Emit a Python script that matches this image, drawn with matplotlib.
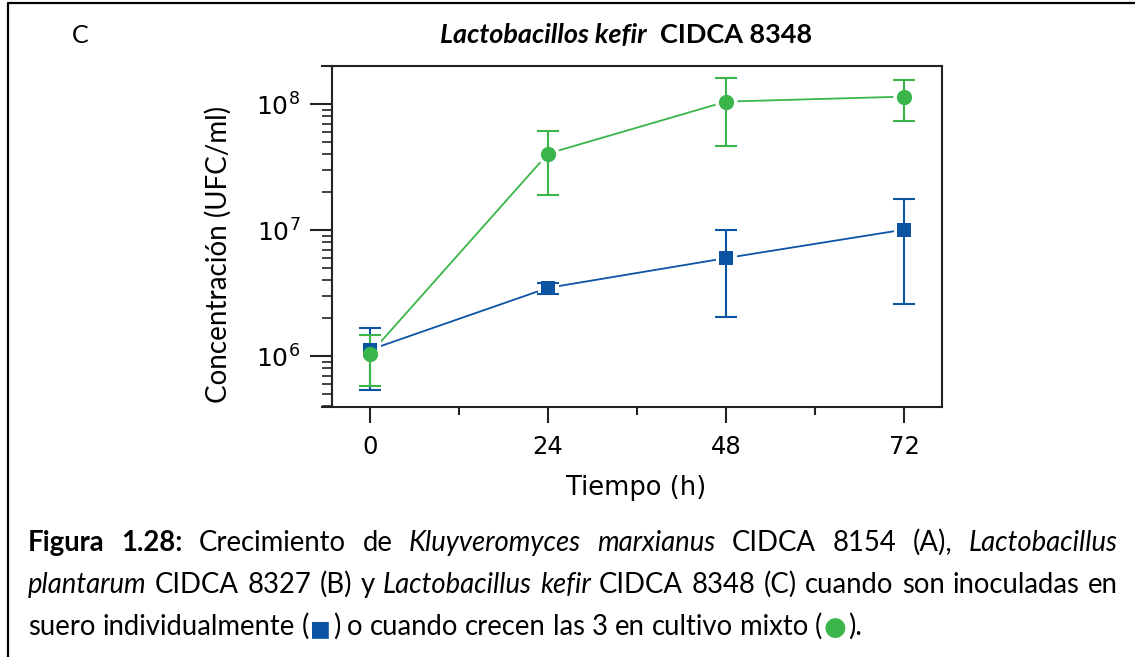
import matplotlib
matplotlib.use("Agg")
import matplotlib.pyplot as plt
from matplotlib.lines import Line2D
from matplotlib.transforms import IdentityTransform
from matplotlib.ticker import LogLocator, NullFormatter, FixedLocator

# data (UFC/ml)
tiempo_h = [0, 24, 48, 72]
individual = [1.12e6, 3.48e6, 6.0e6, 1.01e7]
individual_sup = [1.68e6, 3.82e6, 1.0e7, 1.76e7]
individual_inf = [5.4e5, 3.1e6, 2.05e6, 2.57e6]
mixto = [1.04e6, 4.06e7, 1.05e8, 1.15e8]
mixto_sup = [1.47e6, 6.08e7, 1.61e8, 1.56e8]
mixto_inf = [5.8e5, 1.9e7, 4.7e7, 7.35e7]

x_major = [0, 24, 48, 72]
x_minor = [12, 36, 60]

BLUE = "#0b54a4"
GREEN = "#39b54a"
CAP_FONT = "Lato"

W, H = 1135, 657
fig = plt.figure(figsize=(W / 100, H / 100), dpi=100)
px = IdentityTransform()

# axes box: 322..942 px wide, 66..407 px tall
ax = fig.add_axes([322 / W, 1 - 407 / H, 620 / W, 341 / H])
ax.set_yscale("log")
ax.set_xlim(-6.47, 77.09)
ax.set_ylim(10 ** 5.595, 10 ** 8.304)


def plot_series(y, sup, inf, color, marker, ms):
    err = [[m - lo for m, lo in zip(y, inf)], [hi - m for m, hi in zip(y, sup)]]
    ax.plot(tiempo_h, y, color=color, lw=1.3, zorder=2)
    # white ring leaves a small gap between line and marker
    ax.plot(tiempo_h, y, ls="none", marker=marker, ms=ms, mfc="white",
            mec="white", mew=5, zorder=3)
    ax.errorbar(tiempo_h, y, yerr=err, fmt="none", ecolor=color, elinewidth=1.5,
                capsize=8, capthick=1.5, zorder=4)
    ax.plot(tiempo_h, y, ls="none", marker=marker, ms=ms, mfc=color, mec=color,
            mew=0, zorder=5)


plot_series(individual, individual_sup, individual_inf, BLUE, "s", 9.5)
plot_series(mixto, mixto_sup, mixto_inf, GREEN, "o", 11)

for side in ["top", "bottom", "left", "right"]:
    ax.spines[side].set_linewidth(1.5)
    ax.spines[side].set_color("#222222")
ax.spines["left"].set_position(("axes", 10 / 620))

ax.xaxis.set_major_locator(FixedLocator(x_major))
ax.xaxis.set_minor_locator(FixedLocator(x_minor))
ax.yaxis.set_major_locator(LogLocator(base=10, numticks=10))
ax.yaxis.set_minor_locator(LogLocator(base=10, subs=range(2, 10), numticks=20))
ax.yaxis.set_minor_formatter(NullFormatter())
ax.tick_params(axis="x", which="major", direction="out", length=11.5, width=1.5,
               color="#222222", pad=9, labelsize=17.5)
ax.tick_params(axis="x", which="minor", direction="out", length=5.8, width=1.5,
               color="#222222")
ax.tick_params(axis="y", which="major", direction="out", length=15.8, width=1.5,
               color="#222222", pad=7, labelsize=18)
ax.tick_params(axis="y", which="minor", direction="out", length=7.2, width=1.2,
               color="#222222")
ax.tick_params(top=False, right=False, which="both")

ax.set_xlabel("Tiempo (h)", fontsize=18.5)
ax.xaxis.set_label_coords((636 - 322) / 620, (407 - 475) / 341)
ax.set_ylabel("Concentración (UFC/ml)", fontsize=20, family="Lato")
ax.yaxis.set_label_coords((218 - 322) / 620, (407 - 254) / 341)
ax.yaxis.label.set_va("center")

# outer frame (top and left edges only are visible)
fig.add_artist(Line2D([8 / W, 8 / W, 1], [0, 1 - 3 / H, 1 - 3 / H],
                      transform=fig.transFigure, color="black", lw=1.6))

renderer = fig.canvas.get_renderer()


def text_px(x, y, s, style, size):
    kw = dict(fontsize=size, transform=px, ha="left", va="baseline",
              family=CAP_FONT, color="black")
    if style == "b":
        kw["weight"] = "bold"
    elif style == "i":
        kw["style"] = "italic"
    elif style == "bi":
        kw.update(weight="bold", style="italic")
    elif style == "sq":
        kw.update(family="DejaVu Sans", color=BLUE, fontsize=size * 0.8)
    elif style == "ci":
        kw.update(family="DejaVu Sans", color=GREEN, fontsize=size * 0.95)
    return fig.text(x, H - y, s, **kw)


def width_of(s, style, size):
    t = text_px(0, 0, s, style, size)
    w = t.get_window_extent(renderer).width
    t.remove()
    return w


def draw_line(words, y, size, x0, x1=None):
    placed = []
    total = 0
    for word in words:
        parts = []
        for s, st in word:
            t = text_px(0, y, s, st, size)
            w = t.get_window_extent(renderer).width
            if st in ("sq", "ci"):
                w += 3
            parts.append((t, w))
        placed.append(parts)
        total += sum(w for _, w in parts)
    if x1 is None:
        gap = width_of("n n", "n", size) - width_of("nn", "n", size)
    else:
        gap = (x1 - x0 - total) / (len(words) - 1)
    x = x0
    for parts in placed:
        for t, w in parts:
            if t.get_text() in ("■", "●"):
                t.set_x(x + 1.5)
            else:
                t.set_x(x)
            x += w
        x += gap


# title
title_size = 17
w1 = width_of("Lactobacillos kefir", "bi", title_size)
w2 = width_of("CIDCA 8348", "b", title_size)
sp = width_of("n n", "b", title_size) - width_of("nn", "b", title_size)
scale = 372 / (w1 + w2 + 2 * sp)
title_size *= scale
w1, w2, sp = w1 * scale, w2 * scale, sp * scale
tx = 626 - (w1 + w2 + 2 * sp) / 2
text_px(tx, 43, "Lactobacillos kefir", "bi", title_size)
text_px(tx + w1 + 2 * sp, 43, "CIDCA 8348", "b", title_size)
text_px(72, 43, "C", "n", 18)

# caption
cap_l1 = [[("Figura", "b")], [("1.28:", "b")], [("Crecimiento", "n")], [("de", "n")],
          [("Kluyveromyces", "i")], [("marxianus", "i")], [("CIDCA", "n")],
          [("8154", "n")], [("(A),", "n")], [("Lactobacillus", "i")]]
cap_l2 = [[("plantarum", "i")], [("CIDCA", "n")], [("8327", "n")], [("(B)", "n")],
          [("y", "n")], [("Lactobacillus", "i")], [("kefir", "i")], [("CIDCA", "n")],
          [("8348", "n")], [("(C)", "n")], [("cuando", "n")], [("son", "n")],
          [("inoculadas", "n")], [("en", "n")]]
cap_l3 = [[("suero", "n")], [("individualmente", "n")],
          [("(", "n"), ("■", "sq"), (")", "n")], [("o", "n")], [("cuando", "n")],
          [("crecen", "n")], [("las", "n")], [("3", "n")], [("en", "n")],
          [("cultivo", "n")], [("mixto", "n")], [("(", "n"), ("●", "ci"), (").", "n")]]

cap_size = 17
w3 = width_of("suero individualmente ( ) o cuando crecen las 3 en cultivo mixto ( ).",
              "n", cap_size)
cap_size *= 824 / (w3 + 20)

draw_line(cap_l1, 551, cap_size, 28, 1118)
draw_line(cap_l2, 593, cap_size, 28, 1118)
draw_line(cap_l3, 635, cap_size, 28)

fig.savefig("out.png", dpi=100)
